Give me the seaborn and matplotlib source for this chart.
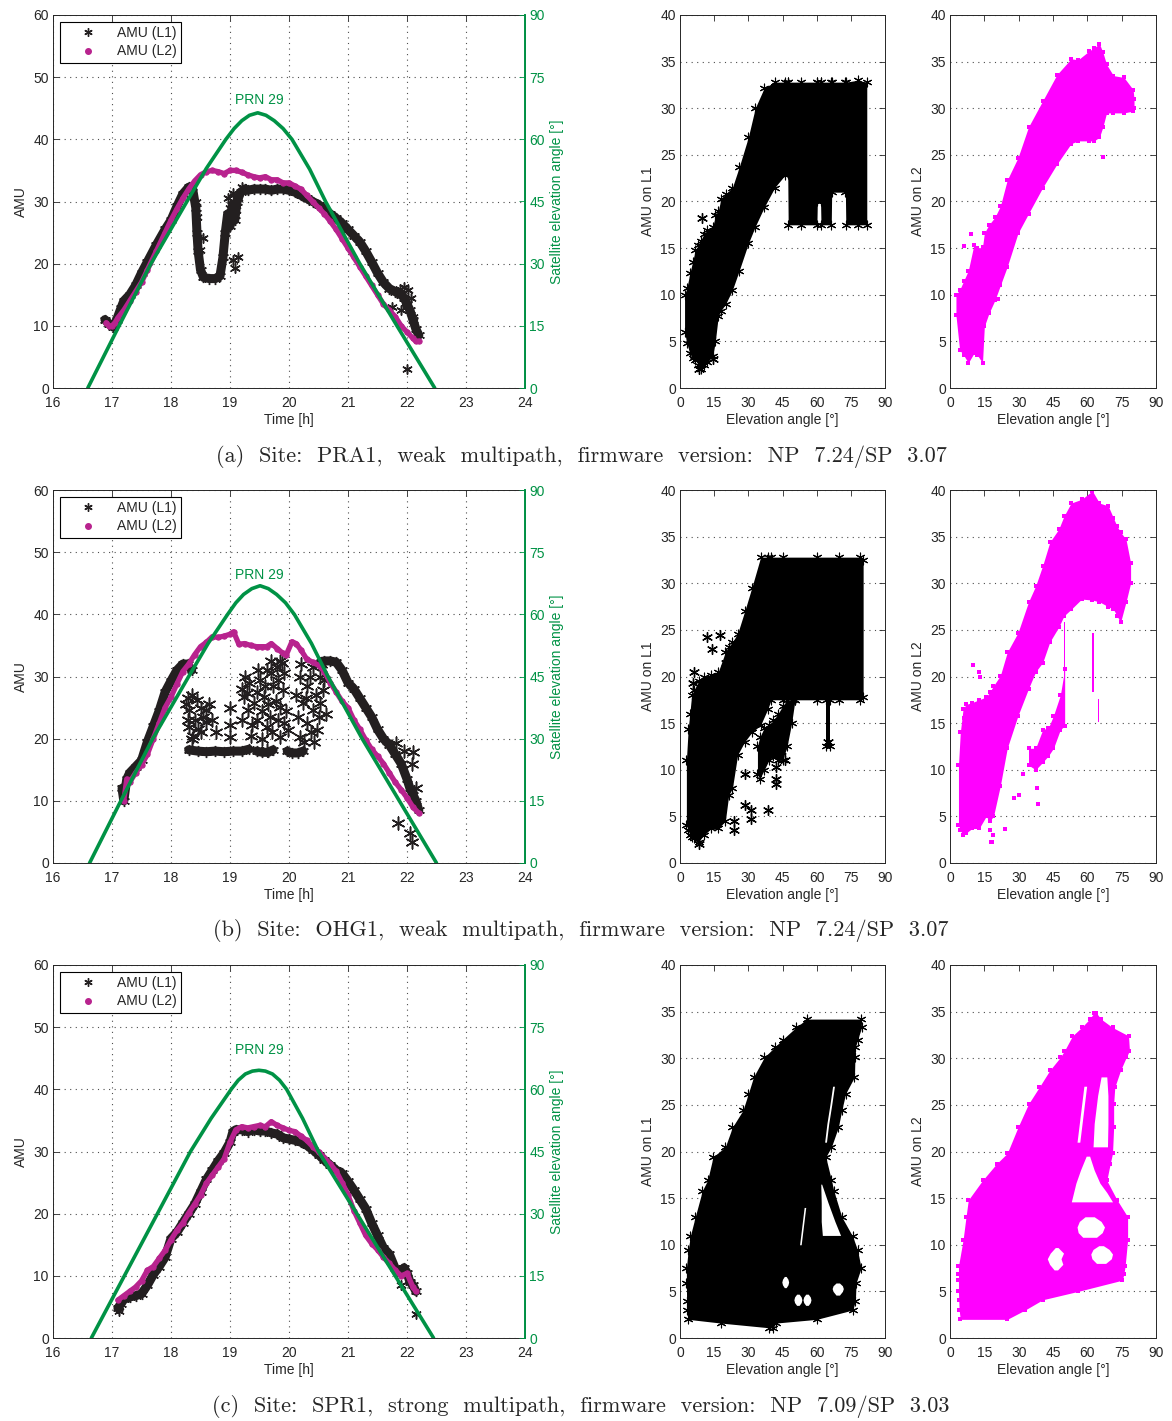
import matplotlib
matplotlib.use('Agg')
import numpy as np
import pandas as pd
import matplotlib.pyplot as plt
import seaborn as sns
from matplotlib.lines import Line2D

L1_COLOR = '#231f20'
L2_COLOR = '#b8238e'
ELEV_COLOR = '#009245'
MAGENTA = '#ff00ff'
STAR = (6, 2, 0)

# ---------------- time series, site PRA1 (a) ----------------
elev_t_a = [16.59, 17.12, 17.66, 18.27, 18.6, 18.93, 19.07, 19.2, 19.33, 19.47, 19.61, 19.75, 19.9, 20.05, 20.35, 20.62, 21.2, 21.83, 22.47]
elev_d_a = [0, 15, 30, 45, 53, 60, 62.6, 64.5, 65.8, 66.4, 65.8, 64.5, 62.6, 60, 52.8, 45, 30, 15, 0]

l1_t_a = [16.88, 16.95, 17.02, 17.08, 17.15, 17.2, 17.3, 17.4, 17.5, 17.6, 17.75, 17.9, 18.0, 18.1, 18.2,
          18.3, 18.36, 18.42, 18.44, 18.46, 18.5, 18.55, 18.65, 18.75, 18.83, 18.88, 18.92, 18.96, 19.0, 19.04,
          19.08, 19.12, 19.18, 19.25, 19.3, 19.4, 19.5, 19.6, 19.7, 19.8, 19.9, 20.0, 20.1, 20.2, 20.3,
          20.4, 20.5, 20.6, 20.7, 20.8, 20.9, 21.0, 21.1, 21.2, 21.3, 21.4, 21.5, 21.6, 21.7, 21.8,
          21.9, 21.95, 22.0, 22.05, 22.1, 22.15, 22.2]
l1_v_a = [11, 10.3, 9.8, 11, 12.8, 14, 15, 16.5, 18.5, 20.3, 23, 25.5, 27, 29.2, 31.2,
          32.3, 32.4, 29, 25, 22, 19, 17.8, 17.6, 17.6, 18, 21, 25, 28, 26, 29.5,
          27, 30, 31.5, 32, 31.8, 32, 32, 32, 31.8, 32, 32, 31.8, 31.5, 31, 30.5,
          30, 29.5, 28.8, 28, 27.3, 26.5, 25.5, 24.5, 23.5, 22, 20.3, 18.5, 17, 16, 15.5,
          15, 14.5, 13.5, 12.5, 11, 9.5, 8.5]
st_t_a = [18.42, 18.44, 18.49, 18.54, 18.96, 19.0, 19.05, 19.1, 19.14, 19.2, 19.05, 19.08, 19.14,
          21.88, 21.95, 22.02, 22.06, 21.98, 21.9, 22.1, 21.75, 22.0]
st_v_a = [30, 27.5, 22.2, 24.1, 30.5, 29, 31.4, 28.6, 30.5, 32.3, 20.6, 19.3, 21,
          16, 16.2, 15.8, 14.5, 13, 12.5, 11.5, 13, 3]
l2_t_a = [16.9, 16.95, 17.0, 17.05, 17.1, 17.2, 17.3, 17.4, 17.5, 17.6, 17.75, 17.9, 18.0, 18.1, 18.2,
          18.3, 18.4, 18.5, 18.6, 18.7, 18.8, 18.9, 19.0, 19.1, 19.2, 19.3, 19.4, 19.5, 19.6, 19.7,
          19.8, 19.9, 20.0, 20.1, 20.2, 20.3, 20.4, 20.5, 20.6, 20.7, 20.8, 20.9, 21.0, 21.1, 21.2,
          21.3, 21.4, 21.5, 21.6, 21.7, 21.8, 21.9, 22.0, 22.1, 22.15, 22.2]
l2_v_a = [10.5, 10, 10, 10.5, 11.3, 12.5, 14, 15.5, 17, 19, 22, 25, 27, 28.8, 30.5,
          32, 33.3, 34.3, 34.8, 35, 34.8, 34.5, 35, 35, 34.7, 34.3, 34, 33.8, 34, 33.5,
          33.5, 33, 33, 32.5, 32, 31, 30, 29, 28, 26.8, 25.5, 24, 22.5, 21, 19.5,
          18, 16.5, 15, 13.5, 12.5, 11.5, 10, 9, 8, 7.5, 7.5]

# ---------------- time series, site OHG1 (b) ----------------
elev_t_b = [16.62, 17.15, 17.69, 18.3, 18.63, 18.96, 19.1, 19.23, 19.37, 19.51, 19.65, 19.79, 19.94, 20.09, 20.38, 20.66, 21.24, 21.87, 22.5]
elev_d_b = [0, 15, 30, 45, 53, 60, 62.8, 64.8, 66.2, 66.9, 66.2, 64.8, 62.8, 60, 53, 45, 30, 15, 0]

l1_rise_t_b = [17.17, 17.2, 17.25, 17.3, 17.4, 17.5, 17.6, 17.7, 17.8, 17.9, 18.0, 18.1, 18.2, 18.28, 18.35]
l1_rise_v_b = [12, 10, 13.5, 14.5, 15.5, 16.5, 19.5, 22, 24.5, 27.5, 29.3, 31, 32, 32, 31]
l1_floor_t_b = [18.3, 18.45, 18.6, 18.75, 18.9, 19.05, 19.2, 19.32]
l1_floor_v_b = [18.2, 18, 17.9, 18, 17.9, 18, 18, 18.3]
l1_blob1_t_b = [19.45, 19.55, 19.65, 19.73]
l1_blob1_v_b = [18, 17.8, 17.8, 18.2]
l1_blob2_t_b = [19.97, 20.05, 20.15, 20.24]
l1_blob2_v_b = [18, 17.7, 17.7, 18]
l1_fall_t_b = [20.55, 20.6, 20.7, 20.8, 20.9, 21.0, 21.1, 21.2, 21.3, 21.4, 21.5, 21.6, 21.7, 21.8, 21.9, 22.0, 22.05, 22.1, 22.15, 22.2]
l1_fall_v_b = [32.4, 32.5, 32.5, 32.3, 31, 29, 28, 26.5, 25, 23.5, 21.5, 20, 19, 17.5, 16, 13.5, 12, 11, 10, 8.5]
st_t_b = [18.29, 18.44, 18.3, 18.29, 18.41, 18.6, 18.6, 18.77, 19.0, 19.0, 19.0, 19.25, 19.28, 19.3, 19.4,
          19.51, 19.57, 19.62, 19.68, 19.73, 19.79, 19.85, 19.9, 19.88, 19.98, 19.85, 19.62, 19.45, 20.19, 20.3,
          20.41, 20.53, 20.24, 20.41, 20.3, 20.53, 20.47, 20.19, 20.58, 19.23, 19.37, 19.62, 18.5, 18.35, 21.82,
          22.1, 22.09, 21.85, 22.05, 22.08, 22.15, 21.95,
          18.25, 18.35, 18.5, 18.55, 18.45, 18.65, 18.7, 18.38, 18.3,
          19.2, 19.2, 19.32, 19.35, 19.45, 19.47, 19.55, 19.55, 19.6, 19.65,
          19.7, 19.72, 19.78, 19.82, 19.82, 19.92, 19.95, 19.92, 19.7, 19.85,
          20.12, 20.15, 20.2, 20.28, 20.35, 20.38, 20.45, 20.5, 20.55, 20.6, 20.62, 20.25, 20.42]
st_v_b = [26.5, 26.2, 24.6, 23, 23, 24.6, 22.7, 21.1, 24.9, 22.2, 20.3, 30, 27.3, 24.6, 25.7,
          29.4, 26.7, 31, 23.5, 28.4, 31.6, 25.1, 27.8, 32.2, 21.4, 20.3, 21.9, 23, 30, 28.4,
          31.6, 30, 25.7, 24.6, 22.5, 25.7, 21.4, 20.3, 27.8, 26.7, 22.2, 18.2, 21, 20, 19.3,
          17.9, 16, 6.4, 4.8, 3.4, 12, 18,
          25.5, 27, 25, 23.5, 21.5, 25.5, 23, 20.5, 21.8,
          23, 28, 29, 20.5, 27.5, 31, 24.5, 20, 28.5, 25.5,
          30.5, 21, 26, 29.5, 23, 30.5, 24.5, 22.5, 32.5, 32.5,
          27, 23.5, 32, 26.5, 30, 21, 27, 23.5, 32, 29.5, 24, 19.5, 19.5]
l2_t_b = [17.2, 17.25, 17.3, 17.4, 17.5, 17.6, 17.7, 17.8, 17.9, 18.0, 18.1, 18.2, 18.3, 18.4, 18.5,
          18.6, 18.7, 18.8, 18.9, 19.0, 19.06, 19.15, 19.25, 19.35, 19.45, 19.55, 19.62, 19.7, 19.8, 19.9,
          19.95, 20.05, 20.12, 20.2, 20.3, 20.4, 20.5, 20.6, 20.7, 20.8, 20.9, 21.0, 21.1, 21.2, 21.3,
          21.4, 21.5, 21.6, 21.7, 21.8, 21.9, 22.0, 22.1, 22.2]
l2_v_b = [10, 13.5, 13, 14.5, 15.8, 17.5, 20, 22.5, 25, 26.7, 28.8, 30.8, 32, 33.5, 34.8,
          35.5, 36.4, 36.3, 36.5, 36.8, 37.2, 35.2, 35.3, 35, 34.8, 34.8, 34.8, 35.3, 34.5, 33.7,
          33.4, 35.6, 35.3, 34.3, 32.8, 32.3, 31.8, 30.8, 29, 27.5, 26, 25, 23, 21.5, 19.8,
          18.3, 17.2, 16, 14.5, 13, 11.8, 10.5, 9, 8]

# ---------------- time series, site SPR1 (c) ----------------
elev_t_c = [16.65, 17.21, 17.77, 18.33, 18.68, 19.02, 19.14, 19.26, 19.38, 19.49, 19.6, 19.72, 19.84, 19.96, 20.23, 20.5, 21.15, 21.8, 22.45]
elev_d_c = [0, 15, 30, 45, 53, 60, 62.2, 63.7, 64.4, 64.6, 64.4, 63.7, 62.2, 60, 53, 45, 30, 15, 0]

l1_t_c = [17.1, 17.15, 17.2, 17.3, 17.4, 17.5, 17.6, 17.7, 17.8, 17.9, 18.0, 18.1, 18.2, 18.3, 18.4,
          18.5, 18.6, 18.7, 18.8, 18.9, 19.0, 19.05, 19.1, 19.2, 19.3, 19.4, 19.5, 19.6, 19.7, 19.8,
          19.9, 20.0, 20.1, 20.2, 20.3, 20.4, 20.5, 20.6, 20.7, 20.8, 20.9, 21.0, 21.1, 21.2, 21.3,
          21.4, 21.5, 21.6, 21.7, 21.8, 21.9, 21.95, 22.0, 22.05, 22.1, 22.15]
l1_v_c = [4.8, 5.5, 6.2, 6.6, 6.8, 7.1, 8.5, 10.2, 11.5, 13, 16, 17, 18.5, 20, 21.5,
          23.5, 25.5, 27, 28.5, 29.8, 31.5, 33.2, 33.5, 33.5, 33.2, 33.5, 33.3, 33.3, 33, 32.8,
          32.2, 32, 31.8, 31.5, 31, 30.3, 29.5, 28.6, 27.8, 27, 26.5, 25.2, 23.8, 22.3, 20.8,
          18.5, 16.5, 14.5, 13.5, 11.2, 10.5, 11.3, 10.5, 9, 8.5, 7.5]
st_t_c = [22.15, 21.9, 17.12]
st_v_c = [3.8, 8.5, 4.3]
l2_t_c = [17.1, 17.2, 17.3, 17.4, 17.5, 17.6, 17.7, 17.8, 17.9, 18.0, 18.1, 18.2, 18.3, 18.4, 18.5,
          18.6, 18.7, 18.8, 18.9, 19.0, 19.1, 19.2, 19.3, 19.4, 19.5, 19.6, 19.7, 19.8, 19.9, 20.0,
          20.1, 20.2, 20.3, 20.4, 20.5, 20.6, 20.7, 20.8, 20.9, 21.0, 21.1, 21.2, 21.3, 21.4, 21.5,
          21.6, 21.7, 21.8, 21.9, 22.0, 22.1, 22.15]
l2_v_c = [6.1, 6.8, 7.5, 8.2, 9.2, 10.9, 11.5, 12.8, 14.1, 15.8, 17.3, 18.5, 20.1, 21.5, 23,
          24.9, 26.2, 27.5, 28.8, 31.5, 33.5, 34, 33.8, 34, 34.2, 34, 34.8, 34.2, 33.8, 33.4,
          33.2, 32.5, 31.8, 30.8, 30, 29, 28, 26.8, 25, 23, 20.5, 18.5, 16.5, 15.2, 14.2,
          13, 12, 10.9, 10, 10.4, 8.2, 7.5]

# ---------------- AMU vs elevation clouds (outline of the point clouds) ----------------
sa1_el = [2, 3, 4.3, 5.5, 6.7, 8, 9, 10.5, 12, 14.4, 15.5, 16.8, 18, 20, 23, 26, 30, 33, 37, 41.6,
          46, 47.3, 47.5, 53, 60.1, 60.3, 61.7, 61.9, 66.4, 66.6, 72.6, 72.8, 78, 82]
sa1_lo = [6, 4.8, 3.7, 3.2, 3, 2.5, 2, 2.5, 2.8, 3.4, 5, 7.7, 8.3, 9, 10.5, 12.6, 15.5, 17.3, 19.4, 21.5,
          22.8, 23, 17.5, 17.5, 17.5, 20, 20, 17.5, 17.5, 21, 21, 17.5, 17.5, 17.5]
sa1_hi = [10, 10.7, 12.3, 13.5, 14.8, 15.3, 15.8, 16.5, 16.9, 17.3, 18.5, 19, 20.3, 20.8, 21.5, 23.7, 26.9, 30, 32.2, 32.8,
          32.8, 32.8, 32.8, 32.8, 32.8, 32.8, 32.8, 32.8, 32.8, 32.8, 32.8, 32.8, 33, 32.8]
sa1_out_el = [9.5, 14.5, 8.5]
sa1_out_amu = [18.2, 3.1, 2]

sa2_el = [2.6, 4.2, 6, 8, 10.4, 12, 14.2, 15, 17, 19.6, 22, 25, 29.7, 34.3, 40.5, 46.7, 52.9, 56, 60.6, 63,
          65.3, 66.8, 68.4, 71.4, 76, 80, 80.4]
sa2_lo = [7.8, 4.1, 3.5, 2.7, 3.7, 3.5, 2.7, 6.6, 8, 9.4, 11, 13, 16.6, 18.7, 21.5, 24, 26.2, 26.5, 26.5, 26.5,
          26.9, 28, 29.5, 29.5, 29.5, 29.7, 30]
sa2_hi = [10, 10.5, 11.5, 12.6, 15.3, 15, 15.1, 16.6, 17.5, 18.3, 19.5, 22.3, 24.7, 28, 30.8, 33.6, 35.3, 35.2, 36.1, 36.5,
          36.9, 36, 34.7, 33.5, 33.3, 32, 31]
sa2_out_el = [67, 21, 9, 6]
sa2_out_amu = [24.8, 9.5, 16.5, 15.2]

sb1_el = [2.8, 3.6, 4.3, 5.1, 6, 8.2, 10.5, 13.7, 16.8, 19.9, 21.4, 23, 25.3, 28.4, 31.5, 35.4, 38.5, 40, 45, 60,
          70, 79, 80.4]
sb1_lo = [4.1, 3.5, 3, 2.8, 2.7, 2.3, 3, 3.7, 3.7, 4.5, 7.3, 8, 11.6, 13, 14, 14.8, 16.5, 17.5, 17.5, 17.5,
          17.5, 17.5, 17.8]
sb1_hi = [11, 14.4, 16, 18, 18.5, 19.5, 20, 20.2, 20.5, 22.6, 23.2, 23.7, 24.6, 27, 29.5, 32.8, 32.8, 32.8, 32.8, 32.8,
          32.8, 32.8, 32.5]
sb1_branch_el = [34, 35, 37, 39, 41, 43, 45, 47, 49, 50.5]
sb1_branch_lo = [9.5, 9, 10, 11, 11.5, 11, 11, 12.5, 15, 17.5]
sb1_branch_hi = [12.5, 13.5, 14.5, 14.8, 15.3, 16, 16.8, 17.5, 17.5, 17.5]
sb1_stalk_el = [64.3, 65.7]
sb1_stalk_lo = [12.5, 12.5]
sb1_stalk_hi = [17.5, 17.5]
sb1_out_el = [12, 14, 17.5, 6, 5.5, 28.5, 28.5, 31, 31, 23.5, 23.5, 38.5, 42, 42, 42, 44.5, 46, 8.5, 65, 22, 20]
sb1_out_amu = [24.2, 23, 24.5, 20.5, 19.3, 9.5, 6.2, 5.7, 4.7, 4.5, 3.5, 5.7, 10.3, 9, 8.5, 12, 11, 2, 13, 22.5, 21.5]

sb2_el = [3.7, 4.5, 5.7, 7, 9.6, 12.7, 15.8, 17.3, 19, 22, 25, 29.7, 34.3, 37.4, 40.5, 43.6, 47.5, 49.8, 52.9, 57.5,
          62.2, 65.3, 69.1, 71.4, 73, 74.5, 76.9, 78.9]
sb2_lo = [4.1, 3.5, 3, 3.2, 3.7, 3.7, 5, 4.5, 5, 8.3, 12.3, 15.8, 18.7, 20.5, 21.5, 23.7, 25.3, 26.5, 27.2, 28.3,
          28.2, 28, 27.5, 27.2, 26.5, 25.8, 28, 30]
sb2_hi = [10.5, 14, 16.5, 17, 17.2, 17.5, 17.8, 18.3, 19, 20.1, 22.6, 24.7, 28, 29.7, 31.9, 34.4, 35.8, 37.2, 38.6, 39,
          39.9, 38.6, 38.3, 37, 36.1, 35.5, 34.7, 32.2]
sb2_branch_el = [34.3, 37.4, 40.5, 43, 45.2, 48.2, 50.1]
sb2_branch_lo = [10.5, 10, 10.8, 11.5, 12.3, 14.3, 14.7]
sb2_branch_hi = [12.3, 12.3, 14.3, 14.5, 15.8, 18, 20.8]
sb2_streak_el = [(49.6, 50.3), (62.2, 62.8), (64.6, 65.1)]
sb2_streak_lo = [20, 18.3, 15.1]
sb2_streak_hi = [25.8, 24.7, 17.6]
sb2_out_el = [18, 18.5, 19, 17.5, 24, 28, 30, 38.5, 38, 32, 10, 12.5, 13, 7, 6]
sb2_out_amu = [2.3, 2.3, 3, 3.5, 3.6, 7, 7.3, 6.3, 8, 9.5, 21.2, 20.5, 20, 17, 15.5]

# SPR1: outlines given as left/right elevation for each AMU level
sc1_amu = [1.1, 1.6, 2, 3, 4, 5.9, 7.5, 9.4, 10.9, 13, 15.8, 16.9, 19.4, 20.5, 22.6, 24.4, 26.2, 28, 30.1, 31.2,
           32, 33.3, 34.2]
sc1_left = [39, 18, 3.6, 3, 2.9, 2.8, 2.8, 3.6, 4.5, 6.7, 9.8, 12.1, 14.5, 19.9, 23, 27.6, 30, 32.3, 37, 41.6,
            45, 50.9, 55.6]
sc1_right = [41, 42, 60, 75.8, 77, 77.3, 79.5, 78, 75.8, 71, 67.5, 66.5, 64, 66.5, 69.5, 71, 72.7, 76.6, 76.8, 77,
             78, 79.7, 79.5]
sc1_holes = [
    ([11, 12.5, 14.5, 16.5], [62.5, 62, 62, 61.8], [70.5, 68, 65, 62.2]),
    ([21, 23, 25, 27], [63.5, 64.5, 65.8, 67], [64.3, 65.3, 66.6, 67.8]),
    ([3.5, 3.8, 4.1, 4.4, 4.7], [51.2, 50.3, 50, 50.3, 51.2], [52.3, 53.2, 53.5, 53.2, 52.3]),
    ([3.5, 3.8, 4.1, 4.4, 4.7], [55.2, 54.3, 54, 54.3, 55.2], [56.3, 57.2, 57.5, 57.2, 56.3]),
    ([5.4, 5.7, 6, 6.3, 6.6], [45.8, 45, 44.7, 45, 45.8], [46.6, 47.4, 47.7, 47.4, 46.6]),
    ([4.6, 5, 5.3, 5.6, 5.9], [68.5, 67.2, 66.8, 67.2, 68.5], [70, 71.3, 71.7, 71.3, 70]),
    ([10, 12, 14], [52.5, 53.5, 54.5], [53.2, 54.2, 55.2]),
]

sc2_amu = [2, 3, 4.1, 5, 6.2, 6.9, 7.7, 10.5, 13, 14.8, 16.9, 18.7, 19.8, 22.6, 25.1, 26.9, 28.7, 30.1, 30.8, 32.4,
           33.3, 34.2, 34.9]
sc2_left = [4.5, 4, 3.8, 3.7, 3.7, 3.7, 3.7, 5.7, 7, 8, 14.2, 20.4, 25, 29.7, 34.3, 39, 43.6, 48.2, 50, 53.5,
            57.5, 61, 63]
sc2_right = [25, 32.8, 40.5, 56, 75.3, 76, 76.5, 77.6, 77.6, 73, 68.5, 70, 71, 71.5, 71.5, 72, 74.5, 77, 78.4, 78,
             71, 66, 63.8]
sc2_holes = [
    ([14.6, 15.6, 16.6, 18, 19.5], [53, 54, 55, 57, 59.5], [71, 68.5, 65.5, 63, 61]),
    ([20.5, 23, 26, 28], [62.5, 63, 64.5, 66], [68.8, 69, 69, 68.5]),
    ([7.3, 7.9, 8.5, 9.1, 9.7], [45.5, 43.5, 42.5, 43.8, 46], [47, 49.3, 48.5, 49.6, 47.2]),
    ([8, 8.5, 9, 9.5, 9.9], [64, 62, 61.5, 62.5, 65], [68, 70.5, 71, 69.5, 67]),
    ([10.8, 11.3, 11.9, 12.5, 13], [58, 56, 55.5, 56.5, 59], [64, 66.5, 67.5, 66, 63]),
    ([21, 23, 25, 27], [55.5, 56.5, 57.5, 58.5], [56.7, 57.7, 58.7, 59.7]),
]

captions = ['(a)  Site:  PRA1,  weak  multipath,  firmware  version:  NP  7.24/SP  3.07',
            '(b)  Site:  OHG1,  weak  multipath,  firmware  version:  NP  7.24/SP  3.07',
            '(c)  Site:  SPR1,  strong  multipath,  firmware  version:  NP  7.09/SP  3.03']


def style_axes(ax):
    ax.tick_params(direction='in', length=4, width=0.6, labelsize=10, top=True, right=True)
    ax.tick_params(axis='x', pad=6)
    ax.tick_params(axis='y', pad=3)
    for sp in ax.spines.values():
        sp.set_color('0.15')
        sp.set_linewidth(0.7)


def l1_line(ax, t, v):
    sns.lineplot(x=t, y=v, ax=ax, color=L1_COLOR, lw=6.5, marker=STAR, ms=8, mew=1.0,
                 mec=L1_COLOR, sort=False, estimator=None)


def time_panel(ax, l1_parts, st_t, st_v, star_size, l2_t, l2_v, el_t, el_d):
    for t, v in l1_parts:
        l1_line(ax, t, v)
    sns.scatterplot(x=st_t, y=st_v, ax=ax, marker=STAR, s=star_size, color=L1_COLOR,
                    edgecolor=L1_COLOR, linewidth=1.1)
    sns.lineplot(x=l2_t, y=l2_v, ax=ax, color=L2_COLOR, lw=3.8, marker='o', ms=3.8,
                 mec=L2_COLOR, sort=False, estimator=None)
    ax.set_xlim(16, 24)
    ax.set_ylim(0, 60)
    ax.set_xticks(range(16, 25))
    ax.set_yticks(range(0, 61, 10))
    ax.grid(True, linestyle=(0, (1, 4)), color='0.3', lw=0.8)
    ax.set_axisbelow(True)
    style_axes(ax)
    ax.tick_params(right=False)
    ax.set_xlabel('Time [h]', fontsize=10, labelpad=2)
    ax.set_ylabel('AMU', fontsize=10, labelpad=4)
    ax.text(19.5, 45.2, 'PRN 29', color=ELEV_COLOR, fontsize=10, ha='center', va='bottom')
    handles = [Line2D([], [], ls='none', marker=STAR, color=L1_COLOR, ms=6, mew=1.0),
               Line2D([], [], ls='none', marker='o', color=L2_COLOR, ms=4)]
    leg = ax.legend(handles, ['AMU (L1)', 'AMU (L2)'], loc='upper left', bbox_to_anchor=(0.0148, 0.981),
                    frameon=True, fancybox=False, edgecolor='k', framealpha=1, fontsize=10,
                    borderpad=0.3, handlelength=3.4, handletextpad=0.4, labelspacing=0.3,
                    borderaxespad=0)
    leg.get_frame().set_linewidth(0.8)

    ax2 = ax.twinx()
    sns.lineplot(x=el_t, y=el_d, ax=ax2, color=ELEV_COLOR, lw=2.6, sort=False, estimator=None)
    ax2.set_ylim(0, 90)
    ax2.set_yticks(range(0, 91, 15))
    ax2.tick_params(direction='in', length=4, width=0.6, labelsize=10, colors=ELEV_COLOR, pad=3)
    for name, sp in ax2.spines.items():
        sp.set_visible(name == 'right')
    ax2.spines['right'].set_color(ELEV_COLOR)
    ax2.spines['right'].set_linewidth(1.4)
    ax2.set_ylabel('Satellite elevation angle [°]', color=ELEV_COLOR, fontsize=10, labelpad=4)


def cloud_axes(ax, ylabel):
    ax.set_xlim(0, 90)
    ax.set_ylim(0, 40)
    ax.set_xticks(range(0, 91, 15))
    ax.set_yticks(range(0, 41, 5))
    ax.grid(True, axis='y', linestyle=(0, (1, 4)), color='0.3', lw=0.8)
    ax.grid(False, axis='x')
    ax.set_axisbelow(True)
    style_axes(ax)
    ax.set_xlabel('Elevation angle [°]', fontsize=10, labelpad=2)
    ax.set_ylabel(ylabel, fontsize=10, labelpad=4)


def black_cloud(ax, el, lo, hi):
    ax.fill_between(el, lo, hi, color='k', lw=0)
    sns.scatterplot(x=el + el, y=lo + hi, ax=ax, marker=STAR, s=40, color='k',
                    edgecolor='k', linewidth=0.8)


def magenta_cloud(ax, el, lo, hi):
    ax.fill_between(el, lo, hi, color=MAGENTA, lw=0)
    sns.scatterplot(x=el + el, y=lo + hi, ax=ax, marker='s', s=6, color=MAGENTA, linewidth=0)


sns.set_style('white')
plt.rcParams['font.family'] = ['Liberation Sans', 'DejaVu Sans']

fig = plt.figure(figsize=(11.72, 14.21), dpi=100)
W, H = 1172.0, 1421.0
rows_top = [15, 490, 965]
panels = []
for top in rows_top:
    b = 1 - (top + 373) / H
    h = 373 / H
    panels.append((fig.add_axes([53 / W, b, 472 / W, h]),
                   fig.add_axes([680 / W, b, 205 / W, h]),
                   fig.add_axes([950 / W, b, 206 / W, h])))

# row a
ax_t, ax_1, ax_2 = panels[0]
time_panel(ax_t, [(l1_t_a, l1_v_a)], st_t_a, st_v_a, 45, l2_t_a, l2_v_a, elev_t_a, elev_d_a)
black_cloud(ax_1, sa1_el, sa1_lo, sa1_hi)
sns.scatterplot(x=sa1_out_el, y=sa1_out_amu, ax=ax_1, marker=STAR, s=50, color='k', edgecolor='k', linewidth=1)
cloud_axes(ax_1, 'AMU on L1')
magenta_cloud(ax_2, sa2_el, sa2_lo, sa2_hi)
sns.scatterplot(x=sa2_out_el, y=sa2_out_amu, ax=ax_2, marker='s', s=8, color=MAGENTA, linewidth=0)
cloud_axes(ax_2, 'AMU on L2')

# row b
ax_t, ax_1, ax_2 = panels[1]
time_panel(ax_t, [(l1_rise_t_b, l1_rise_v_b), (l1_floor_t_b, l1_floor_v_b), (l1_blob1_t_b, l1_blob1_v_b),
                  (l1_blob2_t_b, l1_blob2_v_b), (l1_fall_t_b, l1_fall_v_b)],
           st_t_b, st_v_b, 85, l2_t_b, l2_v_b, elev_t_b, elev_d_b)
black_cloud(ax_1, sb1_el, sb1_lo, sb1_hi)
black_cloud(ax_1, sb1_branch_el, sb1_branch_lo, sb1_branch_hi)
black_cloud(ax_1, sb1_stalk_el, sb1_stalk_lo, sb1_stalk_hi)
sns.scatterplot(x=sb1_out_el, y=sb1_out_amu, ax=ax_1, marker=STAR, s=50, color='k', edgecolor='k', linewidth=1)
cloud_axes(ax_1, 'AMU on L1')
magenta_cloud(ax_2, sb2_el, sb2_lo, sb2_hi)
magenta_cloud(ax_2, sb2_branch_el, sb2_branch_lo, sb2_branch_hi)
for el, lo, hi in zip(sb2_streak_el, sb2_streak_lo, sb2_streak_hi):
    ax_2.fill_between(list(el), [lo, lo], [hi, hi], color=MAGENTA, lw=0)
sns.scatterplot(x=sb2_out_el, y=sb2_out_amu, ax=ax_2, marker='s', s=8, color=MAGENTA, linewidth=0)
cloud_axes(ax_2, 'AMU on L2')

# row c
ax_t, ax_1, ax_2 = panels[2]
time_panel(ax_t, [(l1_t_c, l1_v_c)], st_t_c, st_v_c, 45, l2_t_c, l2_v_c, elev_t_c, elev_d_c)
ax_1.fill_betweenx(sc1_amu, sc1_left, sc1_right, color='k', lw=0)
sns.scatterplot(x=sc1_left + sc1_right, y=sc1_amu + sc1_amu, ax=ax_1, marker=STAR, s=40, color='k',
                edgecolor='k', linewidth=0.8)
for amu, left, right in sc1_holes:
    ax_1.fill_betweenx(amu, left, right, color='white', lw=0)
cloud_axes(ax_1, 'AMU on L1')
ax_2.fill_betweenx(sc2_amu, sc2_left, sc2_right, color=MAGENTA, lw=0)
sns.scatterplot(x=sc2_left + sc2_right, y=sc2_amu + sc2_amu, ax=ax_2, marker='s', s=6, color=MAGENTA,
                linewidth=0)
for amu, left, right in sc2_holes:
    ax_2.fill_betweenx(amu, left, right, color='white', lw=0)
cloud_axes(ax_2, 'AMU on L2')

for top, cap in zip([456, 931, 1406], captions):
    fig.text(581 / W, 1 - top / H, cap, ha='center', va='center', fontsize=16, family='cmr10')

fig.savefig('out.png', dpi=100)
